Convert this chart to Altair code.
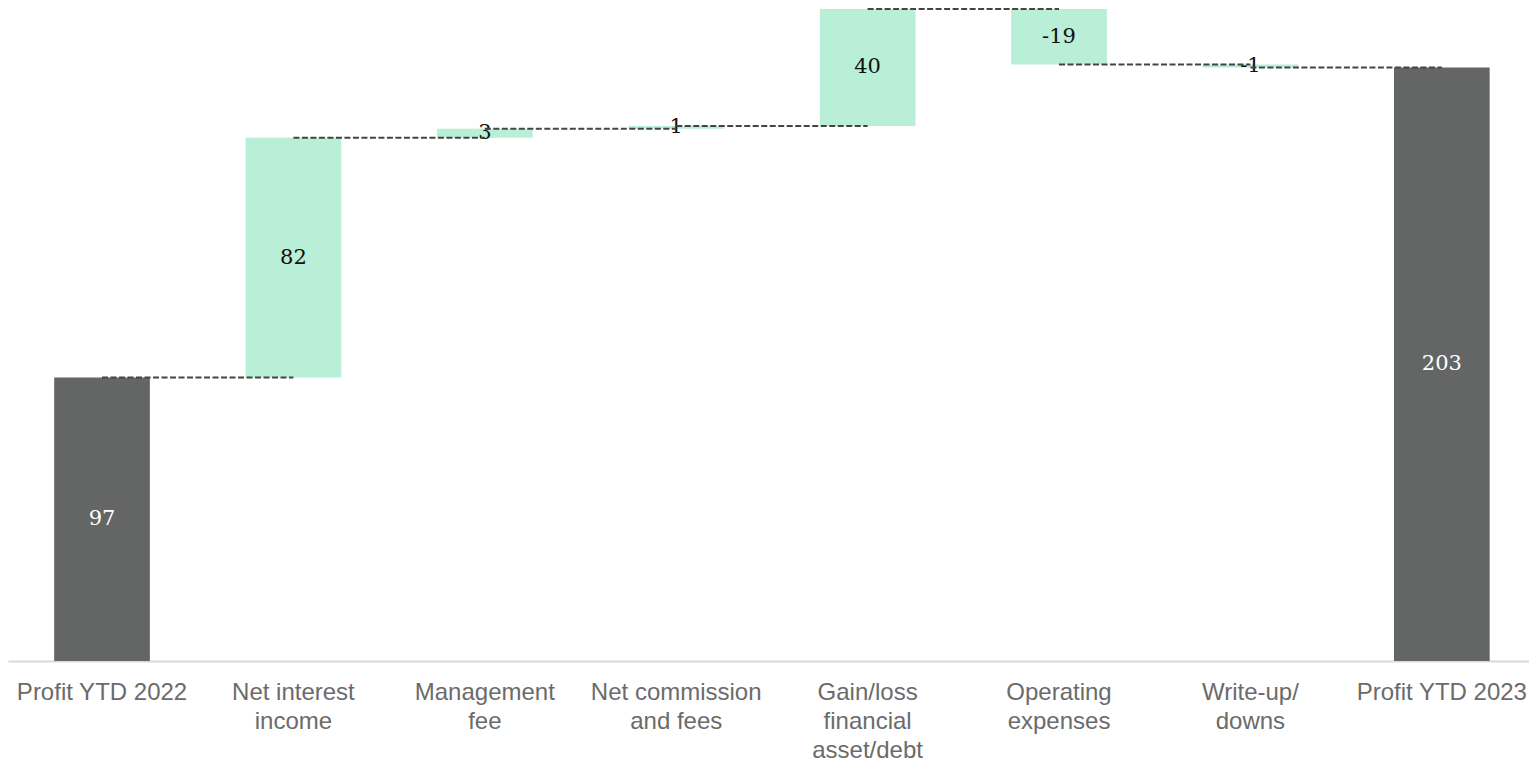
import altair as alt
import pandas as pd

categories = ["Profit YTD 2022", "Net interest income", "Management fee", "Net commission and fees",
              "Gain/loss financial asset/debt", "Operating expenses", "Write-up/ downs", "Profit YTD 2023"]
label_lines = [["Profit YTD 2022"], ["Net interest", "income"], ["Management", "fee"],
               ["Net commission", "and fees"], ["Gain/loss", "financial", "asset/debt"],
               ["Operating", "expenses"], ["Write-up/", "downs"], ["Profit YTD 2023"]]
values = [97, 82, 3, 1, 40, -19, -1, 203]
is_total = [True, False, False, False, False, False, False, True]

rows = []
running = 0
for i, (c, v, t) in enumerate(zip(categories, values, is_total)):
    if t:
        start, end = 0, v
        running = v
    else:
        start, end = running, running + v
        running = end
    rows.append({"cat": c, "start": start, "end": end, "mid": (start + end) / 2,
                 "label": str(v), "kind": "total" if t else "delta",
                 "next": categories[i + 1] if i + 1 < len(categories) else None,
                 "level": end})
df = pd.DataFrame(rows)
conn = df[df["next"].notna()].copy()

label_expr = "{" + ", ".join(f"{c!r}: {lines!r}" for c, lines in zip(categories, label_lines)) + "}"
label_expr = label_expr.replace("'", '"')

xscale = alt.Scale(paddingInner=0.5, paddingOuter=0.2234, align=0.54)
x = alt.X("cat:N", sort=categories, title=None, scale=xscale,
          axis=alt.Axis(labelAngle=0, ticks=False, domain=True, domainColor="#d9d9d9", domainWidth=2,
                        labelFont="Liberation Sans", labelFontSize=24, labelColor="#6b6b6b",
                        labelPadding=19, labelLineHeight=29, labelBaseline="top",
                        labelExpr=label_expr + "[datum.value]"))
yscale = alt.Scale(domain=[0, 223], nice=False)

bars = alt.Chart(df).mark_bar().encode(
    x=x,
    y=alt.Y("start:Q", scale=yscale, axis=None),
    y2="end:Q",
    color=alt.Color("kind:N", scale=alt.Scale(domain=["total", "delta"], range=["#636665", "#b8efd6"]), legend=None),
)

texts = alt.Chart(df).mark_text(font="DejaVu Serif", fontSize=21, baseline="middle").encode(
    x=alt.X("cat:N", sort=categories),
    y=alt.Y("mid:Q", scale=yscale),
    text="label:N",
    color=alt.Color("kind:N", scale=alt.Scale(domain=["total", "delta"], range=["#ffffff", "#111111"]), legend=None),
)

rules = alt.Chart(conn).mark_rule(color="#444444", strokeWidth=2, strokeDash=[6, 2.5]).encode(
    x=alt.X("cat:N", sort=categories),
    x2="next:N",
    y=alt.Y("level:Q", scale=yscale),
)

chart = alt.layer(bars, texts, rules).resolve_scale(color="independent").properties(
    width=1521, height=652, padding=0
).configure_view(stroke=None)

chart.save("out.html", embed_options={"renderer": "svg", "actions": False})
